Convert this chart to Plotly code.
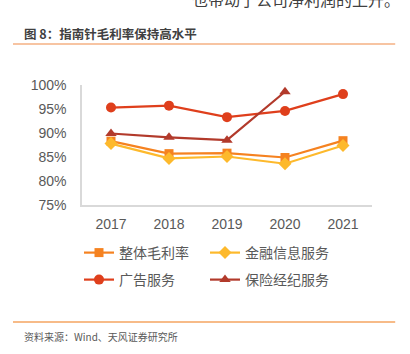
import plotly.graph_objects as go

years = ["2017", "2018", "2019", "2020", "2021"]
overall = [88.3, 85.7, 85.8, 84.9, 88.4]
fin_info = [87.8, 84.7, 85.1, 83.6, 87.4]
ad_service = [95.3, 95.7, 93.3, 94.6, 98.1]
insurance = [89.9, 89.1, 88.5, 98.6, None]
y_ticks = [75, 80, 85, 90, 95, 100]
y_labels = ["75%", "80%", "85%", "90%", "95%", "100%"]

CJK = "Noto Sans CJK SC"
fig = go.Figure()
series = [
    ("整体毛利率", overall, "#F58220", "square", 9, "legend"),
    ("金融信息服务", fin_info, "#FDB92C", "diamond", 10, "legend2"),
    ("广告服务", ad_service, "#DF3F1C", "circle", 10, "legend3"),
    ("保险经纪服务", insurance, "#B23A2B", "triangle-up", 10, "legend4"),
]
for name, vals, col, sym, sz, lg in series:
    fig.add_trace(go.Scatter(
        x=years, y=vals, name=name, mode="lines+markers",
        line=dict(color=col, width=2.2),
        marker=dict(symbol=sym, size=sz, color=col),
        connectgaps=False, legend=lg,
    ))

leg_common = dict(
    orientation="h", xanchor="left", yanchor="middle",
    font=dict(family=CJK, size=14, color="#595959"),
    itemwidth=30, bgcolor="rgba(0,0,0,0)",
)
col1 = (85 - 6 - 82) / 290
col2 = (211 - 6 - 82) / 290
row1 = (205 - 253) / 120
row2 = (205 - 280) / 120
fig.update_layout(
    width=410, height=354,
    margin=dict(l=82, r=38, t=85, b=149),
    paper_bgcolor="white", plot_bgcolor="white",
    showlegend=True,
    legend=dict(x=col1, y=row1, **leg_common),
    legend2=dict(x=col2, y=row1, **leg_common),
    legend3=dict(x=col1, y=row2, **leg_common),
    legend4=dict(x=col2, y=row2, **leg_common),
    xaxis=dict(
        type="category", showgrid=False, showline=True, linecolor="#D9D9D9",
        linewidth=1.5, ticks="", ticklabelstandoff=5,
        tickfont=dict(family="Liberation Sans", size=14, color="#595959"),
        range=[-0.5, 4.5],
    ),
    yaxis=dict(
        range=[75, 100], tickvals=y_ticks, ticktext=y_labels, showgrid=False,
        showline=True, linecolor="#D9D9D9", linewidth=1.5, ticks="", zeroline=False,
        ticklabelstandoff=11,
        tickfont=dict(family="Liberation Sans", size=14, color="#595959"),
    ),
    shapes=[
        dict(type="line", xref="paper", yref="paper", x0=-0.238, x1=1.08,
             y0=(354 - 149 - 44) / 120, y1=(354 - 149 - 44) / 120,
             line=dict(color="#F4B183", width=1.5)),
        dict(type="line", xref="paper", yref="paper", x0=-0.238, x1=1.08,
             y0=(354 - 149 - 322) / 120, y1=(354 - 149 - 322) / 120,
             line=dict(color="#F4A460", width=1.5)),
    ],
    annotations=[
        dict(text="<b>图 8：指南针毛利率保持高水平</b>", xref="paper", yref="paper",
             x=(22 - 82) / 290, y=(354 - 149 - 33) / 120, xanchor="left", yanchor="middle",
             showarrow=False, font=dict(family=CJK, size=12.5, color="#404040")),
        dict(text="资料来源：Wind、天风证券研究所", xref="paper", yref="paper",
             x=(22 - 82) / 290, y=(354 - 149 - 336) / 120, xanchor="left", yanchor="middle",
             showarrow=False, font=dict(family=CJK, size=10, color="#595959")),
        dict(text="也带动了公司净利润的上升。", xref="paper", yref="paper",
             x=(402 - 82) / 290, y=(354 - 149 + 1) / 120, xanchor="right", yanchor="middle",
             showarrow=False, font=dict(family=CJK, size=16, color="#404040")),
    ],
)

fig.write_html("out.html")
